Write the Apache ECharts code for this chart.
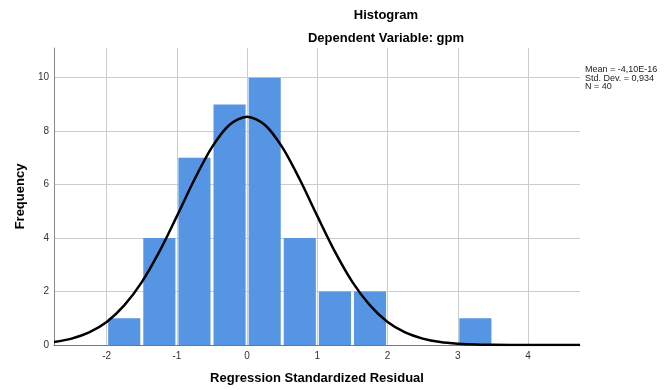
<!DOCTYPE html>
<html>
<head>
<meta charset="utf-8">
<script src="https://cdn.jsdelivr.net/npm/echarts@6/dist/echarts.min.js"></script>
<style>html,body{margin:0;padding:0;background:#fff}#c{width:665px;height:390px}</style>
</head>
<body>
<div id="c"></div>
<script>
// Histogram bins (lower edge, upper edge) and frequencies
const binStart = [-2, -1.5, -1, -0.5, 0, 0.5, 1, 1.5, 2, 2.5, 3];
const binEnd   = [-1.5, -1, -0.5, 0, 0.5, 1, 1.5, 2, 2.5, 3, 3.5];
const counts   = [1, 4, 7, 9, 10, 4, 2, 2, 0, 0, 1];
// Normal curve
const curveX = [-2.75, -2.5, -2.25, -2, -1.75, -1.5, -1.25, -1, -0.75, -0.5, -0.25, 0, 0.25, 0.5, 0.75, 1, 1.25, 1.5, 1.75, 2, 2.25, 2.5, 2.75, 3, 3.25, 3.5, 4, 4.74];
const curveY = [0.11, 0.24, 0.47, 0.86, 1.48, 2.35, 3.49, 4.82, 6.19, 7.40, 8.24, 8.54, 8.24, 7.40, 6.19, 4.82, 3.49, 2.35, 1.48, 0.86, 0.47, 0.24, 0.11, 0.05, 0.02, 0.01, 0, 0];
// Axis ticks
const xTicks = [-2, -1, 0, 1, 2, 3, 4];
const yTicks = [0, 2, 4, 6, 8, 10];
const statsText = ['Mean = -4,10E-16', 'Std. Dev. = 0,934', 'N = 40'];

const FONT = '"Liberation Sans", Arial, sans-serif';
const chart = echarts.init(document.getElementById('c'), null, {renderer: 'canvas'});

const barData = binStart.map((s, i) => [s, binEnd[i], counts[i]]);
const curveData = curveX.map((x, i) => [x, curveY[i]]);

chart.setOption({
  animation: false,
  backgroundColor: '#fff',
  title: [
    {text: 'Histogram', left: 386, top: 9, textAlign: 'center', padding: 0,
     textStyle: {fontSize: 13, fontWeight: 'bold', fontFamily: FONT, color: '#000'}},
    {text: 'Dependent Variable: gpm', left: 386, top: 32, textAlign: 'center', padding: 0,
     textStyle: {fontSize: 13, fontWeight: 'bold', fontFamily: FONT, color: '#000'}},
    {text: statsText.join('\n'), left: 585, top: 65, padding: 0,
     textStyle: {fontSize: 9, fontWeight: 'normal', fontFamily: FONT, color: '#222', lineHeight: 8.7}}
  ],
  grid: {left: 54, top: 48, right: 85, bottom: 45, containLabel: false},
  xAxis: {
    type: 'value', min: -2.75, max: 4.74,
    name: 'Regression Standardized Residual', nameLocation: 'middle', nameGap: 27,
    nameTextStyle: {fontSize: 13, fontWeight: 'bold', fontFamily: FONT, color: '#000'},
    axisLine: {show: true, onZero: false, lineStyle: {color: '#777', width: 1}},
    axisTick: {show: false, customValues: xTicks},
    axisLabel: {customValues: xTicks, fontSize: 10, fontFamily: FONT, color: '#333', margin: 6},
    splitLine: {show: true, lineStyle: {color: '#cccccc', width: 1}}
  },
  yAxis: {
    type: 'value', min: 0, max: 11.11,
    name: 'Frequency', nameLocation: 'middle', nameGap: 27, nameRotate: 90,
    nameTextStyle: {fontSize: 13, fontWeight: 'bold', fontFamily: FONT, color: '#000'},
    axisLine: {show: true, onZero: false, lineStyle: {color: '#888', width: 1}},
    axisTick: {show: false, customValues: yTicks},
    axisLabel: {customValues: yTicks, fontSize: 10, fontFamily: FONT, color: '#333', margin: 5},
    splitLine: {show: true, lineStyle: {color: '#cccccc', width: 1}}
  },
  series: [
    {
      type: 'custom',
      data: barData,
      encode: {x: [0, 1], y: 2},
      renderItem: function (params, api) {
        const c = api.value(2);
        if (!c) return null;
        const p0 = api.coord([api.value(0), c]);
        const p1 = api.coord([api.value(1), 0]);
        return {
          type: 'rect',
          shape: {x: p0[0] + 1.5, y: p0[1], width: p1[0] - p0[0] - 3, height: p1[1] - p0[1]},
          style: {fill: '#5595e3'}
        };
      },
      z: 2
    },
    {
      type: 'line',
      data: curveData,
      smooth: 0.3,
      showSymbol: false,
      lineStyle: {color: '#000', width: 2.5},
      z: 3
    }
  ]
});
</script>
</body>
</html>
